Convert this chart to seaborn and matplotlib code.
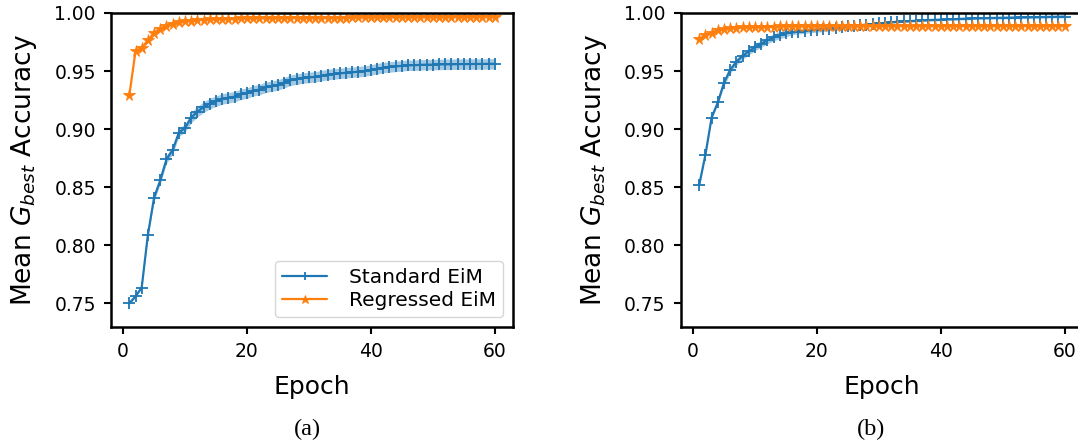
import numpy as np
import pandas as pd
import matplotlib
matplotlib.use("Agg")
import matplotlib.pyplot as plt
import seaborn as sns

# ---------------- data ----------------
epochs = list(range(1, 61))

std_a_mean = [0.750, 0.756, 0.7635, 0.809, 0.841, 0.856, 0.874, 0.882, 0.897, 0.901,
              0.910, 0.915, 0.919, 0.922, 0.924, 0.926, 0.927, 0.928, 0.930, 0.931,
              0.933, 0.934, 0.936, 0.937, 0.938, 0.940, 0.942, 0.943, 0.944, 0.9445,
              0.945, 0.946, 0.947, 0.9475, 0.948, 0.9485, 0.949, 0.9495, 0.950, 0.951,
              0.952, 0.953, 0.9535, 0.954, 0.9545, 0.955, 0.955, 0.9553, 0.9555, 0.9555,
              0.9557, 0.9558, 0.9558, 0.956, 0.956, 0.956, 0.9561, 0.9561, 0.9562, 0.9562]
std_a_sd = [0.001, 0.001, 0.001, 0.002, 0.003, 0.003, 0.0035, 0.0035, 0.0035, 0.0035,
            0.0045, 0.0045, 0.0045, 0.0045, 0.0045, 0.0045, 0.0045, 0.0045, 0.0045, 0.0045,
            0.0045, 0.0045, 0.0045, 0.0045, 0.0045, 0.0045, 0.0045, 0.0045, 0.0045, 0.0045,
            0.0045, 0.0045, 0.0045, 0.0045, 0.0045, 0.0045, 0.0045, 0.0045, 0.0045, 0.0045,
            0.0045, 0.0045, 0.0045, 0.0045, 0.0045, 0.0045, 0.0045, 0.0045, 0.0045, 0.0045,
            0.0045, 0.0045, 0.0045, 0.0045, 0.0045, 0.0045, 0.0045, 0.0045, 0.0045, 0.0045]

reg_a_mean = [0.929, 0.967, 0.970, 0.9765, 0.983, 0.986, 0.989, 0.9908, 0.992, 0.9928,
              0.9935, 0.994, 0.9943, 0.9946, 0.9948, 0.995, 0.9951, 0.9952, 0.9953, 0.9954,
              0.9955, 0.9955, 0.9956, 0.9956, 0.9957, 0.9957, 0.9958, 0.9958, 0.9959, 0.9959,
              0.996, 0.996, 0.996, 0.9961, 0.9961, 0.9961, 0.9962, 0.9962, 0.9962, 0.9962,
              0.9963, 0.9963, 0.9963, 0.9963, 0.9964, 0.9964, 0.9964, 0.9964, 0.9964, 0.9965,
              0.9965, 0.9965, 0.9965, 0.9965, 0.9965, 0.9966, 0.9966, 0.9966, 0.9966, 0.9966]
reg_a_sd = [0.001, 0.001, 0.001, 0.001, 0.0008, 0.0008, 0.0006, 0.0006, 0.0005, 0.0005,
            0.0005, 0.0005, 0.0005, 0.0005, 0.0005, 0.0005, 0.0005, 0.0005, 0.0005, 0.0005,
            0.0005, 0.0005, 0.0005, 0.0005, 0.0005, 0.0005, 0.0005, 0.0005, 0.0005, 0.0005,
            0.0005, 0.0005, 0.0005, 0.0005, 0.0005, 0.0005, 0.0005, 0.0005, 0.0005, 0.0005,
            0.0005, 0.0005, 0.0005, 0.0005, 0.0005, 0.0005, 0.0005, 0.0005, 0.0005, 0.0005,
            0.0005, 0.0005, 0.0005, 0.0005, 0.0005, 0.0005, 0.0005, 0.0005, 0.0005, 0.0005]

std_b_mean = [0.852, 0.878, 0.910, 0.923, 0.940, 0.951, 0.958, 0.963, 0.967, 0.9705,
              0.9735, 0.9765, 0.979, 0.981, 0.9825, 0.9833, 0.984, 0.9845, 0.985, 0.9855,
              0.986, 0.9866, 0.9872, 0.9878, 0.9884, 0.989, 0.9895, 0.990, 0.9905, 0.991,
              0.9915, 0.992, 0.9925, 0.9928, 0.993, 0.9933, 0.9936, 0.9939, 0.9941, 0.9943,
              0.9945, 0.9947, 0.9949, 0.9951, 0.9953, 0.9955, 0.9956, 0.9957, 0.9958, 0.9959,
              0.996, 0.9961, 0.9962, 0.9963, 0.9964, 0.9965, 0.9966, 0.9967, 0.9968, 0.9969]
std_b_sd = [0.001, 0.001, 0.001, 0.002, 0.003, 0.003, 0.003, 0.003, 0.003, 0.003,
            0.003, 0.003, 0.003, 0.003, 0.003, 0.002, 0.002, 0.002, 0.002, 0.002,
            0.002, 0.002, 0.002, 0.002, 0.002, 0.001, 0.001, 0.001, 0.001, 0.001,
            0.001, 0.001, 0.001, 0.001, 0.001, 0.001, 0.001, 0.001, 0.001, 0.001,
            0.001, 0.001, 0.001, 0.001, 0.001, 0.001, 0.001, 0.001, 0.001, 0.001,
            0.001, 0.001, 0.001, 0.001, 0.001, 0.001, 0.001, 0.001, 0.001, 0.001]

reg_b_mean = [0.9775, 0.981, 0.9832, 0.985, 0.986, 0.9868, 0.9873, 0.9876, 0.9878, 0.988,
              0.9881, 0.9882, 0.9883, 0.9884, 0.9884, 0.9885, 0.9885, 0.9886, 0.9886, 0.9886,
              0.9887, 0.9887, 0.9887, 0.9887, 0.9888, 0.9888, 0.9888, 0.9888, 0.9888, 0.9888,
              0.9889, 0.9889, 0.9889, 0.9889, 0.9889, 0.9889, 0.9889, 0.9889, 0.9889, 0.9889,
              0.989, 0.989, 0.989, 0.989, 0.989, 0.989, 0.989, 0.989, 0.989, 0.989,
              0.989, 0.989, 0.989, 0.989, 0.989, 0.989, 0.989, 0.989, 0.989, 0.989]
reg_b_sd = [0.0008] * 60

series_labels = ["Standard EiM", "Regressed EiM"]
panel_labels = ["(a)", "(b)"]
y_ticks = [0.75, 0.80, 0.85, 0.90, 0.95, 1.00]
x_ticks = [0, 20, 40, 60]

# ---------------- style ----------------
sns.set_style("ticks")
plt.rcParams["font.family"] = ["DejaVu Sans"]
plt.rcParams.update({
    "axes.linewidth": 1.8,
    "axes.edgecolor": "black",
    "axes.labelcolor": "black",
    "text.color": "black",
    "xtick.major.width": 1.5,
    "ytick.major.width": 1.5,
    "xtick.major.size": 5,
    "ytick.major.size": 5,
    "xtick.major.pad": 6,
    "ytick.major.pad": 6,
    "xtick.color": "black",
    "ytick.color": "black",
    "xtick.labelsize": 13.5,
    "ytick.labelsize": 13.5,
})

blue = "#1f77b4"
orange = "#ff7f0e"

fig = plt.figure(figsize=(10.78, 4.42), dpi=100)
ax_a = fig.add_axes([0.1030, 0.2602, 0.3729, 0.7104])
ax_b = fig.add_axes([0.6317, 0.2602, 0.3729, 0.7104])

panels = [
    (ax_a, std_a_mean, std_a_sd, reg_a_mean, reg_a_sd),
    (ax_b, std_b_mean, std_b_sd, reg_b_mean, reg_b_sd),
]

for ax, sm, ssd, rm, rsd in panels:
    sm_ = np.array(sm); ssd_ = np.array(ssd)
    rm_ = np.array(rm); rsd_ = np.array(rsd)
    ax.fill_between(epochs, sm_ - ssd_, sm_ + ssd_, color=blue, alpha=0.4, lw=0)
    ax.fill_between(epochs, rm_ - rsd_, rm_ + rsd_, color=orange, alpha=0.4, lw=0)
    sns.lineplot(x=epochs, y=sm, ax=ax, color=blue, marker="+", markersize=8,
                 markeredgewidth=1.3, markeredgecolor=blue, markerfacecolor=blue,
                 linewidth=1.6, label=series_labels[0])
    sns.lineplot(x=epochs, y=rm, ax=ax, color=orange, marker="*", markersize=8.5,
                 markeredgewidth=0.6, markeredgecolor=orange, markerfacecolor=orange,
                 linewidth=1.6, label=series_labels[1])
    ax.set_xlim(-1.95, 62.95)
    ax.set_ylim(0.7296, 1.0)
    ax.set_xticks(x_ticks)
    ax.set_yticks(y_ticks)
    ax.set_yticklabels([f"{t:.2f}" for t in y_ticks])
    ax.set_xlabel("Epoch", fontsize=18, labelpad=10)
    ax.set_ylabel("Mean $G_{best}$ Accuracy", fontsize=19)
    ax.yaxis.set_label_coords(-0.179, 0.5)
    for s in ax.spines.values():
        s.set_visible(True)

leg = ax_a.legend(loc="lower right", fontsize=14.5, frameon=True, handlelength=2.2,
                  handletextpad=1.1, borderpad=0.35, labelspacing=0.2,
                  borderaxespad=0.5, markerscale=0.75)
leg.get_frame().set_edgecolor("#cccccc")
ax_b.get_legend().remove()

fig.text(0.285, 0.004, panel_labels[0], ha="center", va="bottom",
         fontsize=17.5, family="Liberation Serif")
fig.text(0.808, 0.004, panel_labels[1], ha="center", va="bottom",
         fontsize=17.5, family="Liberation Serif")

fig.savefig("out.png", dpi=100)
